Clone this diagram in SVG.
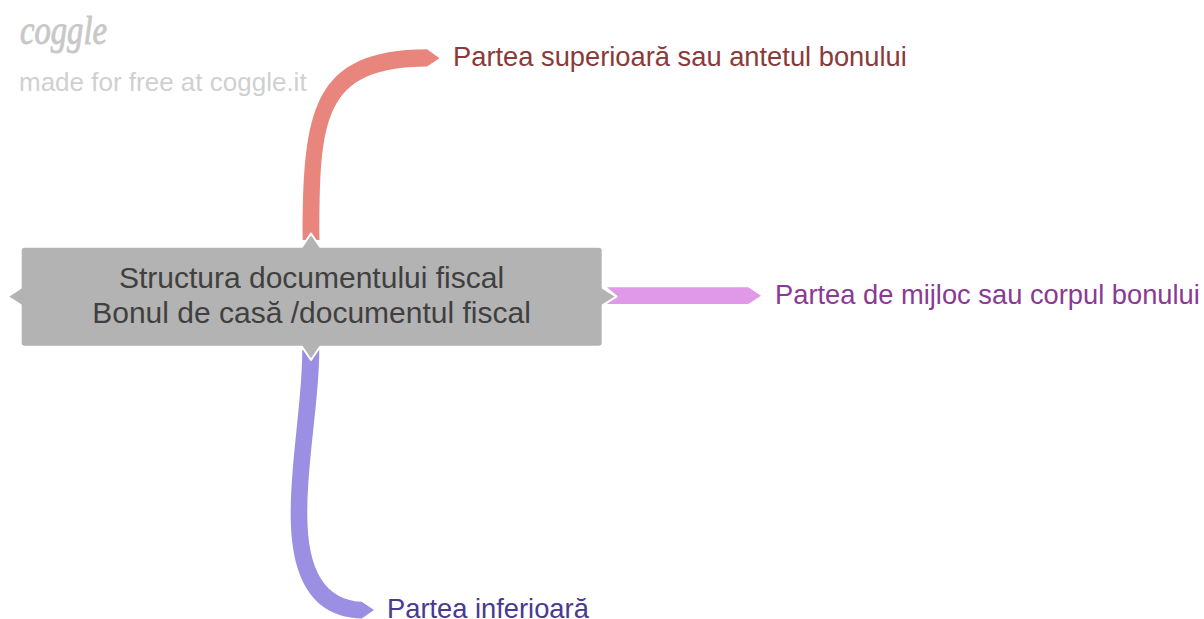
<svg xmlns="http://www.w3.org/2000/svg" width="1204" height="619" viewBox="0 0 1204 619">
<style>
text{font-family:"Liberation Sans",Arial,sans-serif}
.label{font-size:27.3px}
.root{font-size:30px;fill:#404040;text-anchor:middle}
.wm{fill:#d0d0d0}
</style>
<rect width="1204" height="619" fill="#ffffff"/>
<g id="watermark">
<text x="20" y="44" textLength="87" lengthAdjust="spacingAndGlyphs" style="font-family:'Liberation Serif',serif;font-style:italic;font-size:40px;fill:#c8c8c8;stroke:#c8c8c8;stroke-width:.9">coggle</text>
<text class="wm" x="19" y="91" font-size="26">made for free at coggle.it</text>
</g>
<g id="connectors">
<path id="c-top" fill="#e8857d" d="M302.7 240C302.7 110 312 50 427 49.3L439.5 58.3L427 66.5C322 67 319.5 120 319.5 240Z"/>
<path id="c-mid" fill="#e098e8" d="M607 287.3H748.3L761 295.7L748.3 304H607L617 295.7Z"/>
<path id="c-bot" fill="#9b8fe4" d="M302.3 350C302 400 291 460 290.7 513C290.5 575 310 617 361.7 618.5L374 610L361.7 601.7C325 600 307 570 307.3 513C307.5 460 319 400 319.3 350Z"/>
</g>
<g id="root">
<path fill="#b3b3b3" stroke="#ffffff" stroke-width="2" stroke-linejoin="round" d="M25.7 246.7H302L311 233.5L320 246.7H598.7Q602.7 246.7 602.7 250.7V288L616.5 296.7L602.7 305V342.7Q602.7 346.7 598.7 346.7H320L311 360L302 346.7H24.7Q20.7 346.7 20.7 342.7V305L7.5 296.7L20.7 288V250.7Q20.7 246.7 24.7 246.7Z"/>
<text class="root" x="311.5" y="288">Structura documentului fiscal</text>
<text class="root" x="311.5" y="323">Bonul de casă /documentul fiscal</text>
</g>
<g id="node-top"><text class="label" x="453" y="66" fill="#8b3a3a">Partea superioară sau antetul bonului</text></g>
<g id="node-mid"><text class="label" x="775" y="304" fill="#8a3a94">Partea de mijloc sau corpul bonului</text></g>
<g id="node-bot"><text class="label" x="387" y="617.5" fill="#483a90">Partea inferioară</text></g>
</svg>
